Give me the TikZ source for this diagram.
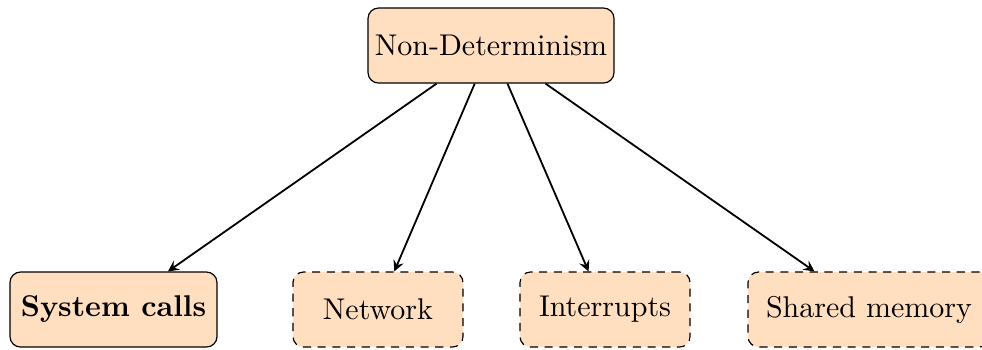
\documentclass[tikz,border=0pt]{standalone}
\usetikzlibrary{arrows}
\begin{document}
\begin{tikzpicture}[
  x=1pt, y=1pt,
  box/.style={draw, fill=orange!25, rounded corners=3.5pt, line width=0.4pt,
              minimum height=25pt, inner sep=0pt, font=\normalsize},
  leaf/.style={box, dashed, dash pattern=on 2.7pt off 2.2pt},
  link/.style={->, >=stealth, semithick}
]
  \useasboundingbox (0,0) rectangle (327.33,-116.33);

  \node[box, minimum width=82pt] (root) at (163.67,-15.17) {Non-Determinism};

  \node[box, minimum width=69pt]    (sys)  at (37.83,-103.17)  {\textbf{System calls}};
  \node[leaf, minimum width=56.67pt] (net)  at (126,-103.17)    {Network};
  \node[leaf, minimum width=56.67pt] (intr) at (201.67,-103.17) {Interrupts};
  \node[leaf, minimum width=80.67pt] (shm)  at (289.67,-103.17) {Shared memory};

  \draw[link] (root) -- (sys);
  \draw[link] (root) -- (net);
  \draw[link] (root) -- (intr);
  \draw[link] (root) -- (shm);
\end{tikzpicture}
\end{document}
